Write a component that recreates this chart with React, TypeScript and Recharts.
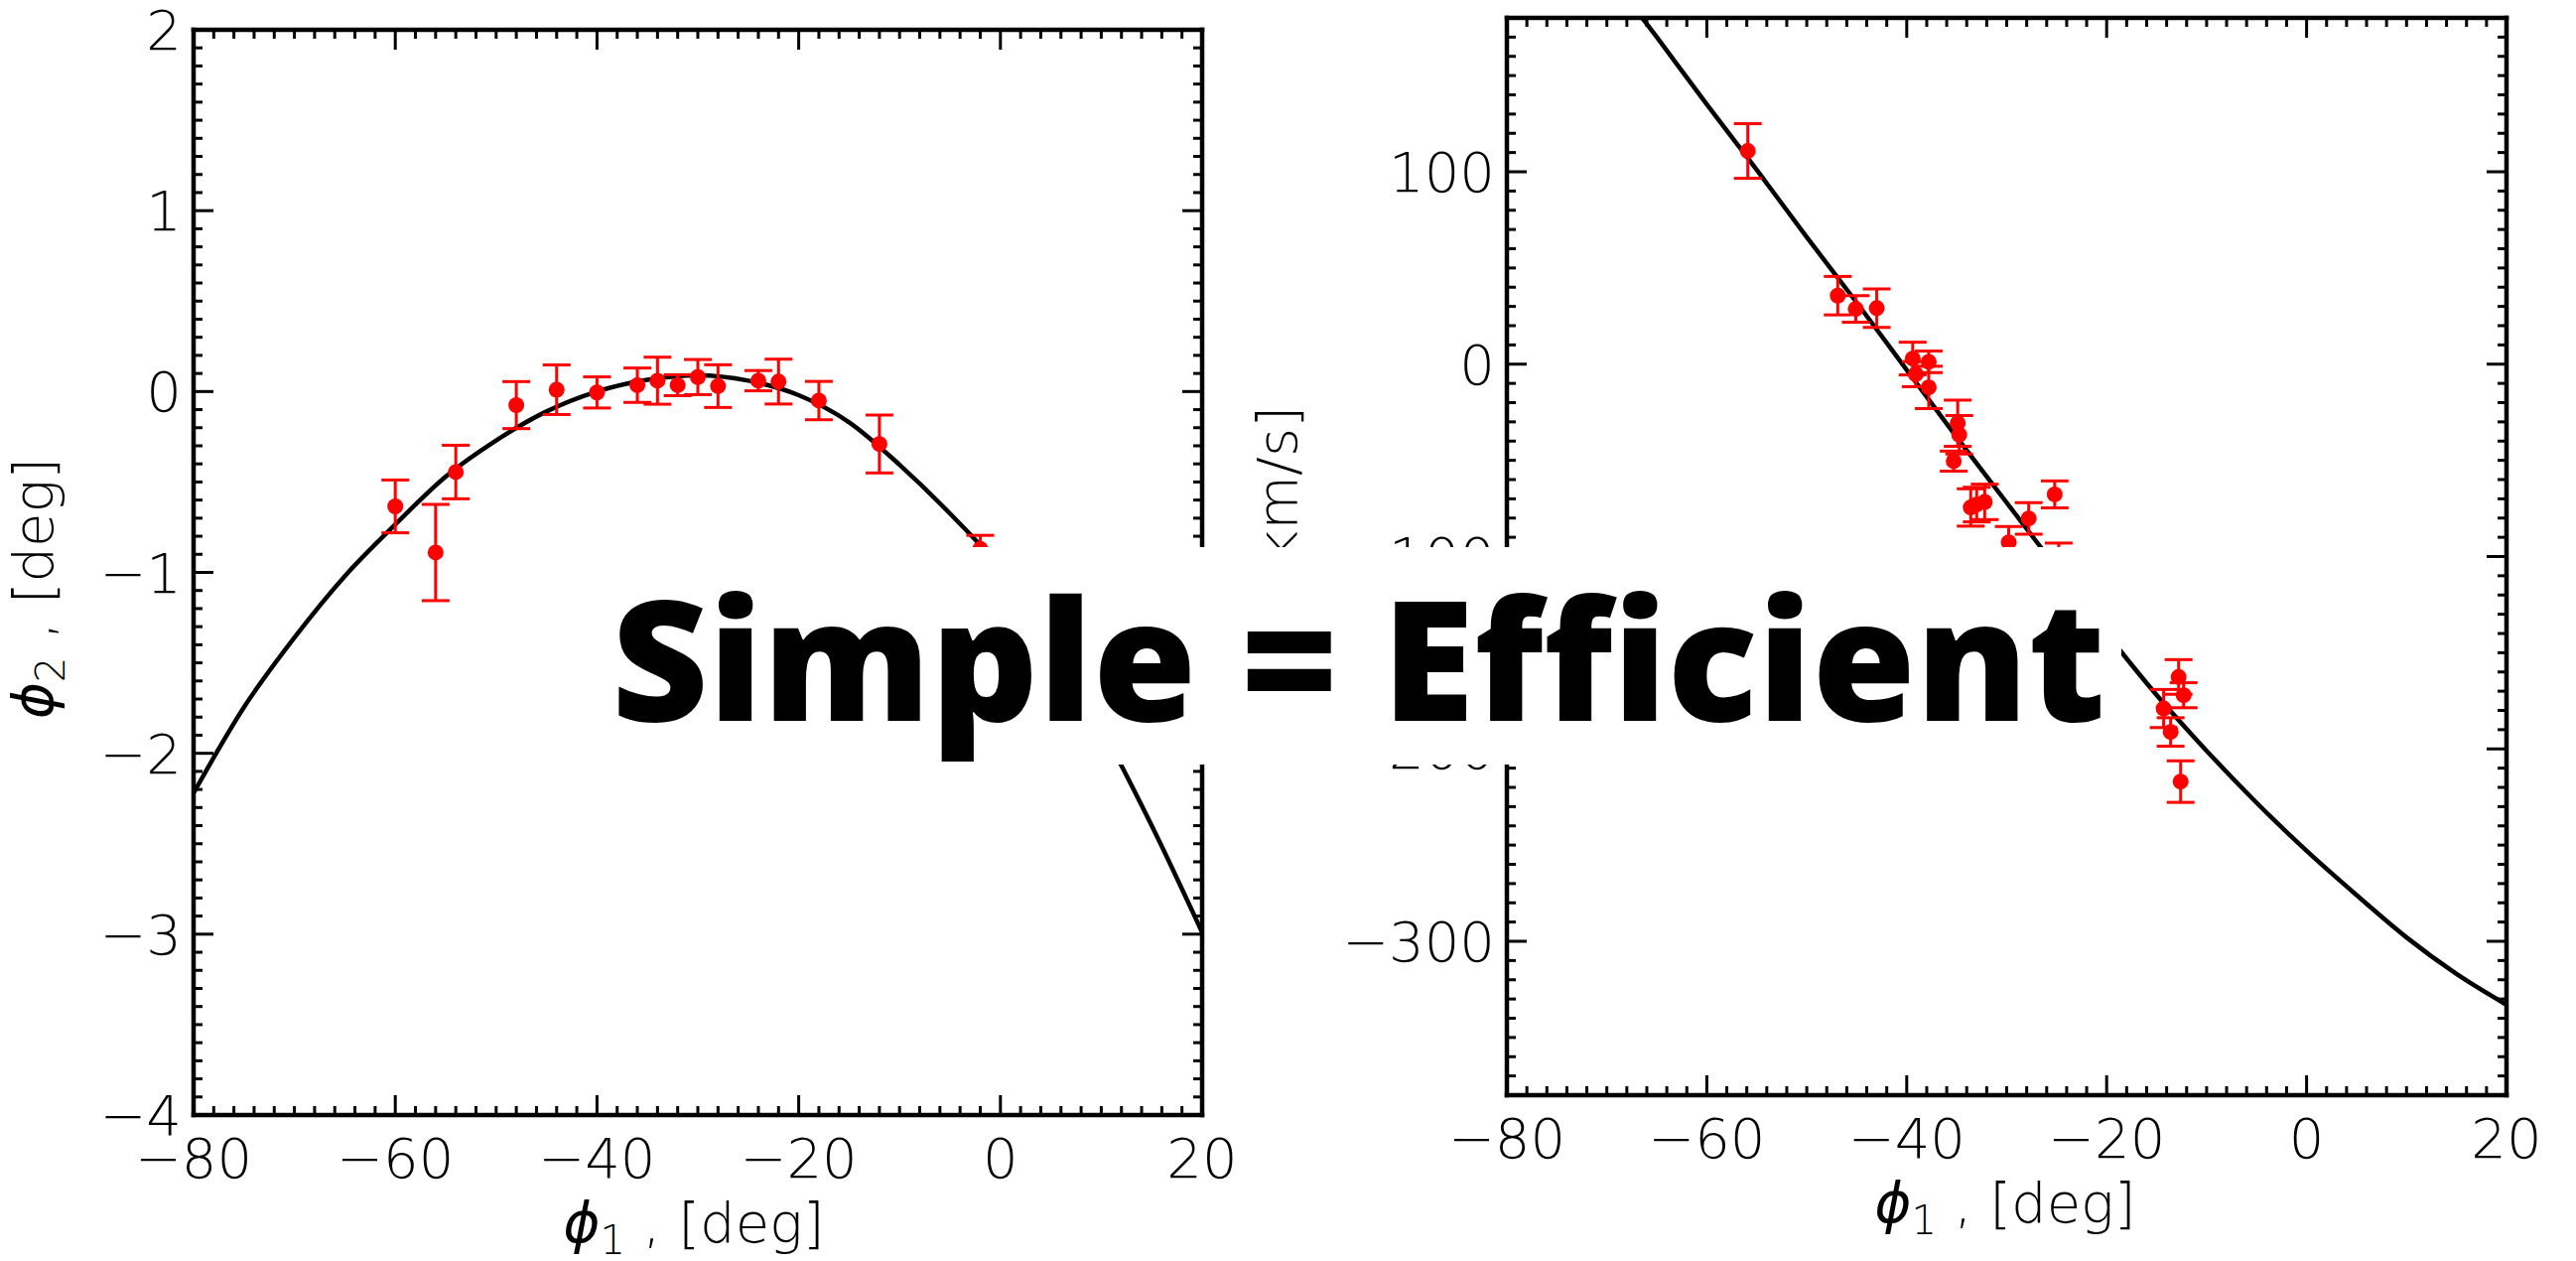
import React from "react";
import { ComposedChart, Line, Scatter, ErrorBar, XAxis, YAxis } from "recharts";

const RED = "#ff0000";
const INK = "#000000";
const TICK_FONT = "'DejaVu Sans', sans-serif";
const TICK_SIZE = 56;

// --- left panel: phi2 vs phi1 ---
const LEFT_PHI1 = [-60, -56, -54, -48, -44, -40, -36, -34, -32, -30, -28, -24, -22, -18, -12, -2];
const LEFT_PHI2 = [-0.635, -0.89, -0.445, -0.075, 0.01, -0.005, 0.035, 0.06, 0.035, 0.08, 0.03, 0.06, 0.055, -0.05, -0.29, -0.87];
const LEFT_ERR = [0.146, 0.266, 0.148, 0.13, 0.137, 0.086, 0.095, 0.13, 0.058, 0.097, 0.118, 0.056, 0.124, 0.106, 0.16, 0.075];

const LEFT_MODEL_PHI1 = [-80, -75, -70, -65, -60, -55, -50, -45, -40, -35, -30, -25, -20, -15, -10, -5, 0, 5, 10, 15, 20];
const LEFT_MODEL_PHI2 = [-2.22, -1.745, -1.36, -1.02, -0.735, -0.47, -0.27, -0.11, 0.0, 0.065, 0.09, 0.06, -0.02, -0.17, -0.405, -0.675, -0.98, -1.4, -1.86, -2.4, -2.99];

// --- right panel: radial velocity vs phi1 ---
const RIGHT_PHI1 = [-55.9, -46.9, -45.1, -43.0, -39.4, -37.8, -39.1, -37.8, -34.9, -34.75, -35.3, -33.6, -33.0, -32.2, -27.8, -25.2, -29.8, -24.8, -12.8, -12.3, -14.3, -13.6, -12.6];
const RIGHT_VR = [110.8, 35.6, 28.7, 29.1, 2.9, 1.2, -5.2, -12.1, -30.7, -36.7, -50.4, -74.5, -73, -71.6, -80.2, -67.7, -92.6, -101, -162.6, -172.1, -179, -191.2, -217];
const RIGHT_ERR = [14.2, 10, 6.9, 10, 8.5, 5.6, 6.5, 11, 12, 10, 5.2, 9.7, 9, 9.2, 8.2, 7, 8.2, 8, 9, 6.5, 9.9, 7.4, 10.8];

const RIGHT_MODEL_PHI1 = [-70, -65, -60, -55, -50, -45, -40, -35, -30, -25, -20, -15, -10, -5, 0, 5, 10, 15, 20];
const RIGHT_MODEL_VR = [204, 170, 135, 101, 66, 32, -3, -38, -72, -106, -140, -172, -201, -228, -253, -276, -298, -317, -333];

// tick labels
const X_MAJOR = [-80, -60, -40, -20, 0, 20];
const LEFT_Y_MAJOR = [-4, -3, -2, -1, 0, 1, 2];
const RIGHT_Y_MAJOR = [-300, -200, -100, 0, 100];

const steps = (from: number, to: number, step: number) => {
  const n = Math.round((to - from) / step);
  return Array.from({ length: n + 1 }, (_, i) => Math.round((from + i * step) * 1000) / 1000);
};

const fmt = (v: number) => (v < 0 ? "\u2212" + Math.abs(v) : String(v));

function Tick(props: any) {
  const { x, y, payload, side, majors, showLabel } = props;
  const v = payload.value;
  const major = majors.some((m: number) => Math.abs(m - v) < 1e-6);
  const len = major ? 20 : 9;
  const sw = 3;
  let line;
  let label = null;
  if (side === "bottom") {
    line = <line x1={x} y1={y} x2={x} y2={y - len} stroke={INK} strokeWidth={sw} />;
    if (major && showLabel)
      label = (
        <text x={x} y={y + 63} textAnchor="middle" fontFamily={TICK_FONT} fontWeight={200} fontSize={TICK_SIZE} fill={INK}>
          {fmt(v)}
        </text>
      );
  } else if (side === "top") {
    line = <line x1={x} y1={y} x2={x} y2={y + len} stroke={INK} strokeWidth={sw} />;
  } else if (side === "left") {
    line = <line x1={x} y1={y} x2={x + len} y2={y} stroke={INK} strokeWidth={sw} />;
    if (major && showLabel)
      label = (
        <text x={x - 12} y={y + 20} textAnchor="end" fontFamily={TICK_FONT} fontWeight={200} fontSize={TICK_SIZE} fill={INK}>
          {fmt(v)}
        </text>
      );
  } else {
    line = <line x1={x} y1={y} x2={x - len} y2={y} stroke={INK} strokeWidth={sw} />;
  }
  return (
    <g>
      {line}
      {label}
    </g>
  );
}

// the math symbol: regular oblique face, the extra light one has no such glyph
const Sym = ({ s }: { s: string }) => (
  <tspan fontFamily="'DejaVu Sans', sans-serif" fontWeight={400} fontStyle="italic">
    {s}
  </tspan>
);

// axis titles; own prop names so the axis does not override them
function XTitle(props: any) {
  const { tx, ty } = props;
  return (
    <text x={tx} y={ty} textAnchor="middle" fontFamily={TICK_FONT} fontWeight={200} fontSize={TICK_SIZE} fill={INK}>
      <Sym s={"\u03d5"} />
      <tspan fontSize={40} dy={12}>1</tspan>
      <tspan dy={-12}>{" , [deg]"}</tspan>
    </text>
  );
}

function YTitle(props: any) {
  const { tx, tyEnd, sym, sub, unit } = props;
  return (
    <text
      x={tx}
      y={tyEnd}
      transform={`rotate(-90, ${tx}, ${tyEnd})`}
      textAnchor="end"
      fontFamily={TICK_FONT}
      fontWeight={200}
      fontSize={TICK_SIZE}
      fill={INK}
    >
      <Sym s={sym} />
      <tspan fontSize={40} dy={12}>{sub}</tspan>
      <tspan dy={-12}>{" , [" + unit + "]"}</tspan>
    </text>
  );
}

const Dot = (p: any) => <circle cx={p.cx} cy={p.cy} r={8} fill={RED} />;

const AXIS_LINE = { stroke: INK, strokeWidth: 4.5, strokeLinecap: "square" as const };

function Panel(props: any) {
  const { left, width, height, margin, points, model, yDomain, yTicks, yMajor, xTitleX, yTitle } = props;
  const xTicks = steps(-80, 20, 2);
  // axes take 1px each, so the margins are trimmed by one
  const m = { left: margin.left - 1, right: margin.right - 1, top: margin.top - 1, bottom: margin.bottom - 1 };
  return (
    <div style={{ position: "absolute", left, top: 0 }}>
      <ComposedChart width={width} height={height} margin={m}>
        <XAxis
          xAxisId="b"
          type="number"
          dataKey="x"
          orientation="bottom"
          domain={[-80, 20]}
          allowDataOverflow
          ticks={xTicks}
          interval={0}
          height={1}
          tickSize={0}
          tickMargin={0}
          tickLine={false}
          axisLine={AXIS_LINE}
          tick={<Tick side="bottom" majors={X_MAJOR} showLabel />}
          label={<XTitle tx={xTitleX} ty={height - margin.bottom + 128} />}
        />
        <XAxis
          xAxisId="t"
          type="number"
          dataKey="x"
          orientation="top"
          domain={[-80, 20]}
          allowDataOverflow
          ticks={xTicks}
          interval={0}
          height={1}
          tickSize={0}
          tickMargin={0}
          tickLine={false}
          axisLine={AXIS_LINE}
          tick={<Tick side="top" majors={X_MAJOR} />}
        />
        <YAxis
          yAxisId="l"
          type="number"
          dataKey="y"
          orientation="left"
          domain={yDomain}
          allowDataOverflow
          ticks={yTicks}
          interval={0}
          width={1}
          tickSize={0}
          tickMargin={0}
          tickLine={false}
          axisLine={AXIS_LINE}
          tick={<Tick side="left" majors={yMajor} showLabel />}
          label={<YTitle {...yTitle} />}
        />
        <YAxis
          yAxisId="r"
          type="number"
          dataKey="y"
          orientation="right"
          domain={yDomain}
          allowDataOverflow
          ticks={yTicks}
          interval={0}
          width={1}
          tickSize={0}
          tickMargin={0}
          tickLine={false}
          axisLine={AXIS_LINE}
          tick={<Tick side="right" majors={yMajor} />}
        />
        <Line
          xAxisId="b"
          yAxisId="l"
          data={model}
          dataKey="y"
          type="monotone"
          stroke={INK}
          strokeWidth={4.5}
          dot={false}
          activeDot={false}
          isAnimationActive={false}
        />
        <Scatter xAxisId="b" yAxisId="l" data={points} dataKey="y" shape={Dot} isAnimationActive={false}>
          <ErrorBar dataKey="e" direction="y" width={14} stroke={RED} strokeWidth={3} isAnimationActive={false} />
        </Scatter>
      </ComposedChart>
    </div>
  );
}

export default function App() {
  const leftPoints = LEFT_PHI1.map((x, i) => ({ x, y: LEFT_PHI2[i], e: LEFT_ERR[i] }));
  const leftModel = LEFT_MODEL_PHI1.map((x, i) => ({ x, y: LEFT_MODEL_PHI2[i] }));
  const rightPoints = RIGHT_PHI1.map((x, i) => ({ x, y: RIGHT_VR[i], e: RIGHT_ERR[i] }));
  const rightModel = RIGHT_MODEL_PHI1.map((x, i) => ({ x, y: RIGHT_MODEL_VR[i] }));

  return (
    <div style={{ position: "absolute", left: 0, top: 0, width: 2595, height: 1270, background: "#fff", overflow: "hidden" }}>
      <Panel
        left={0}
        width={1300}
        height={1270}
        margin={{ left: 195, right: 89, top: 30, bottom: 147 }}
        points={leftPoints}
        model={leftModel}
        yDomain={[-4, 2]}
        yTicks={steps(-4, 2, 0.1)}
        yMajor={LEFT_Y_MAJOR}
        xTitleX={699}
        yTitle={{ tx: 53, tyEnd: 461, sym: "\u03d5", sub: "2", unit: "deg" }}
      />
      <Panel
        left={1200}
        width={1395}
        height={1270}
        margin={{ left: 318, right: 70, top: 18, bottom: 167 }}
        points={rightPoints}
        model={rightModel}
        yDomain={[-380, 180]}
        yTicks={steps(-380, 180, 10)}
        yMajor={RIGHT_Y_MAJOR}
        xTitleX={820}
        yTitle={{ tx: 106, tyEnd: 409, sym: "v", sub: "los", unit: "km/s" }}
      />
      <div
        style={{
          position: "absolute",
          left: 600,
          top: 551,
          width: 1537,
          height: 219,
          background: "#fff",
          display: "flex",
          alignItems: "center",
          justifyContent: "center",
          fontFamily: "'Open Sans', sans-serif",
          fontWeight: 800,
          fontSize: 169,
          color: INK,
          whiteSpace: "nowrap",
          lineHeight: 1,
        }}
      >
        Simple = Efficient
      </div>
    </div>
  );
}
